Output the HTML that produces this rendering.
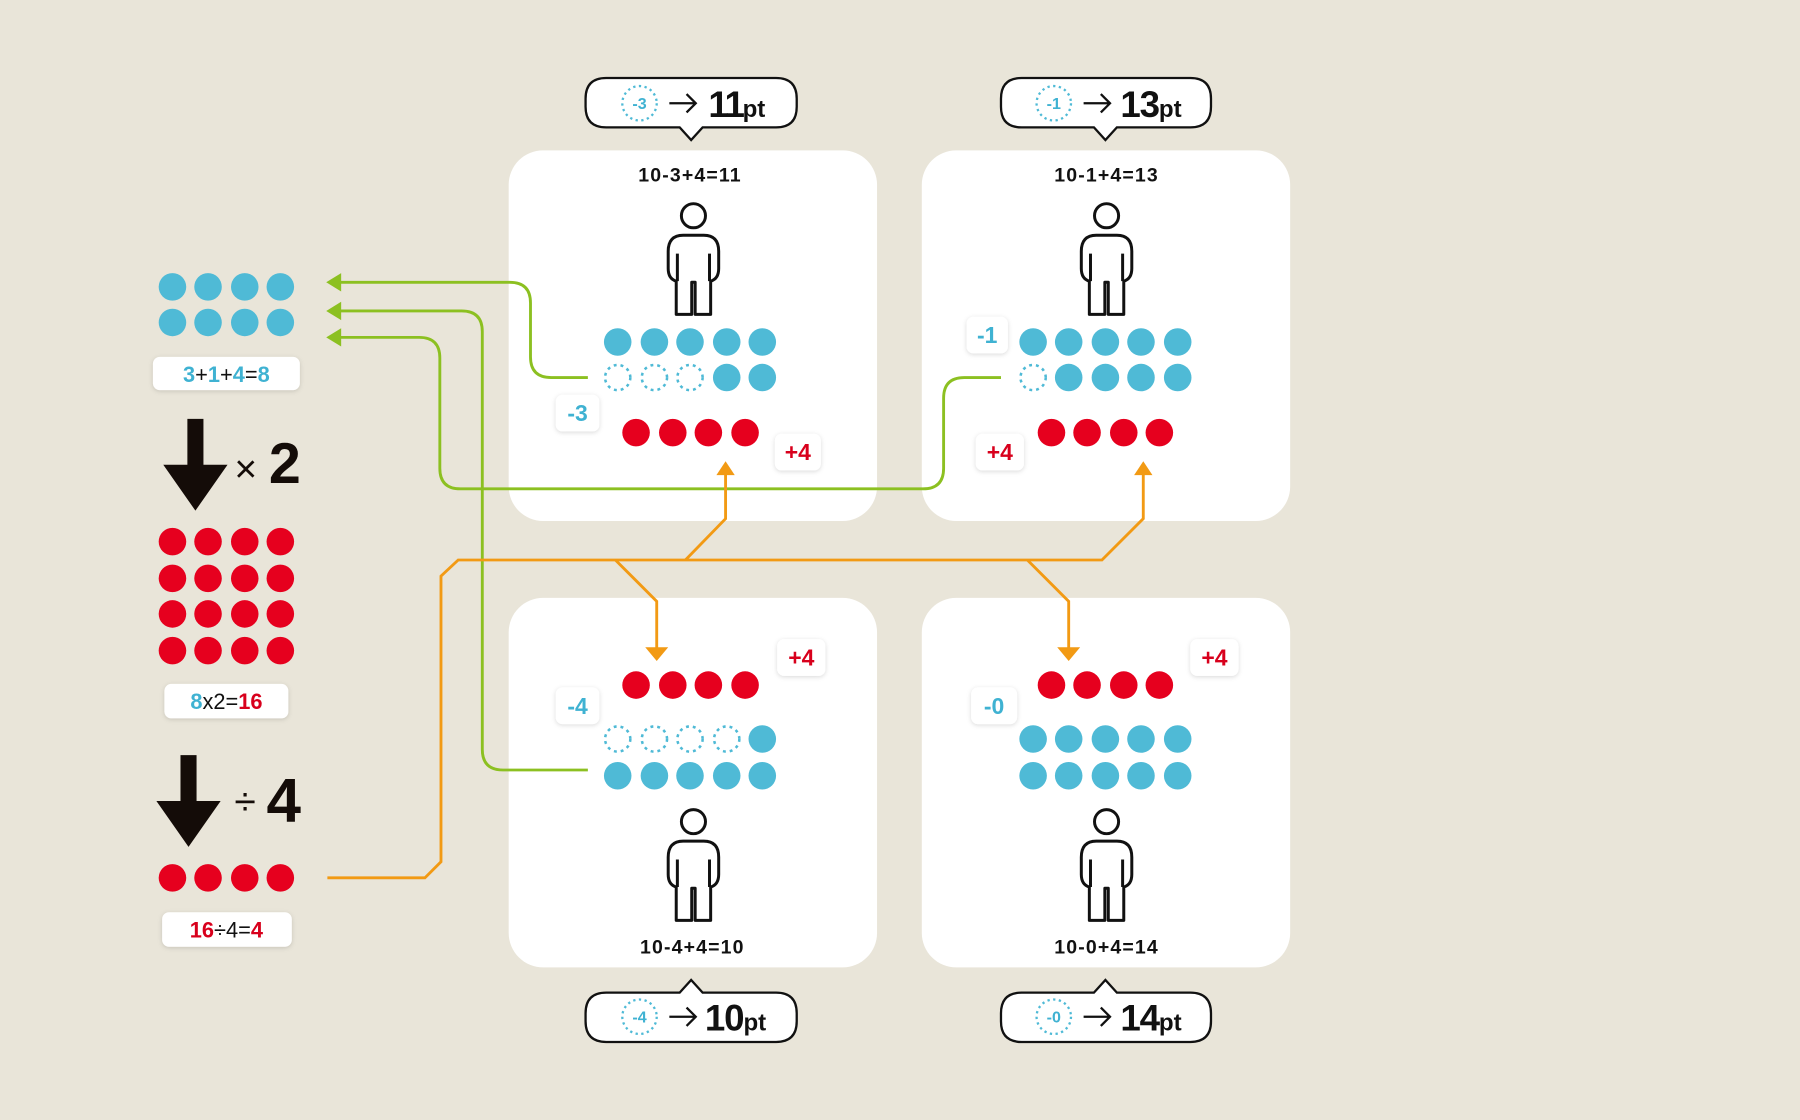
<!DOCTYPE html>
<html><head><meta charset="utf-8"><style>
html,body{margin:0;padding:0;background:#e9e5d9;}
svg{display:block;}
text{font-family:"Liberation Sans",sans-serif;}
</style></head><body>
<svg width="1800" height="1120" viewBox="0 0 1568 976" xmlns="http://www.w3.org/2000/svg">
<defs>
<filter id="sh" x="-30%" y="-30%" width="160%" height="160%"><feDropShadow dx="0" dy="1" stdDeviation="2" flood-opacity="0.15"/></filter>
<g id="person" fill="none" stroke="#111" stroke-width="2.6" stroke-linejoin="round">
<circle cx="0" cy="0" r="10.5"/>
<path d="M0,17 H9 Q22,17 22,31 V46 Q22,55 15,57 V86 H1.5 V58 H-1.5 V86 H-15 V57 Q-22,55 -22,46 V31 Q-22,17 -9,17 Z"/>
<path d="M-14,33 V57 M14,33 V57"/>
</g>
</defs>
<rect width="1568" height="976" fill="#e9e5d9"/>

<rect x="443" y="131" width="321" height="323" rx="30" fill="#fff"/>
<rect x="803" y="131" width="321" height="323" rx="30" fill="#fff"/>
<rect x="443" y="521" width="321" height="322" rx="30" fill="#fff"/>
<rect x="803" y="521" width="321" height="322" rx="30" fill="#fff"/>

<g font-size="17" font-weight="bold" fill="#111" text-anchor="middle" letter-spacing="1">
<text x="601" y="158">10-3+4=11</text>
<text x="964" y="158">10-1+4=13</text>
<text x="603" y="831">10-4+4=10</text>
<text x="964" y="831">10-0+4=14</text>
</g>

<use href="#person" x="604" y="188"/>
<use href="#person" x="964" y="188"/>
<use href="#person" x="604" y="716"/>
<use href="#person" x="964" y="716"/>

<g fill="#4fbad6">
<circle cx="538" cy="298" r="12"/><circle cx="570" cy="298" r="12"/><circle cx="601" cy="298" r="12"/><circle cx="633" cy="298" r="12"/><circle cx="664" cy="298" r="12"/>
<circle cx="633" cy="329" r="12"/><circle cx="664" cy="329" r="12"/>
<circle cx="900" cy="298" r="12"/><circle cx="931" cy="298" r="12"/><circle cx="963" cy="298" r="12"/><circle cx="994" cy="298" r="12"/><circle cx="1026" cy="298" r="12"/>
<circle cx="931" cy="329" r="12"/><circle cx="963" cy="329" r="12"/><circle cx="994" cy="329" r="12"/><circle cx="1026" cy="329" r="12"/>
<circle cx="664" cy="644" r="12"/>
<circle cx="538" cy="676" r="12"/><circle cx="570" cy="676" r="12"/><circle cx="601" cy="676" r="12"/><circle cx="633" cy="676" r="12"/><circle cx="664" cy="676" r="12"/>
<circle cx="900" cy="644" r="12"/><circle cx="931" cy="644" r="12"/><circle cx="963" cy="644" r="12"/><circle cx="994" cy="644" r="12"/><circle cx="1026" cy="644" r="12"/>
<circle cx="900" cy="676" r="12"/><circle cx="931" cy="676" r="12"/><circle cx="963" cy="676" r="12"/><circle cx="994" cy="676" r="12"/><circle cx="1026" cy="676" r="12"/>
<circle cx="150" cy="250" r="12"/><circle cx="181" cy="250" r="12"/><circle cx="213" cy="250" r="12"/><circle cx="244" cy="250" r="12"/>
<circle cx="150" cy="281" r="12"/><circle cx="181" cy="281" r="12"/><circle cx="213" cy="281" r="12"/><circle cx="244" cy="281" r="12"/>
</g>
<g fill="none" stroke="#4fbad6" stroke-width="2.2" stroke-dasharray="2.5 3.5">
<circle cx="538" cy="329" r="11"/><circle cx="570" cy="329" r="11"/><circle cx="601" cy="329" r="11"/>
<circle cx="900" cy="329" r="11"/>
<circle cx="538" cy="644" r="11"/><circle cx="570" cy="644" r="11"/><circle cx="601" cy="644" r="11"/><circle cx="633" cy="644" r="11"/>
</g>
<g fill="#e6001e">
<circle cx="554" cy="377" r="12"/><circle cx="586" cy="377" r="12"/><circle cx="617" cy="377" r="12"/><circle cx="649" cy="377" r="12"/>
<circle cx="916" cy="377" r="12"/><circle cx="947" cy="377" r="12"/><circle cx="979" cy="377" r="12"/><circle cx="1010" cy="377" r="12"/>
<circle cx="554" cy="597" r="12"/><circle cx="586" cy="597" r="12"/><circle cx="617" cy="597" r="12"/><circle cx="649" cy="597" r="12"/>
<circle cx="916" cy="597" r="12"/><circle cx="947" cy="597" r="12"/><circle cx="979" cy="597" r="12"/><circle cx="1010" cy="597" r="12"/>
<circle cx="150" cy="472" r="12"/><circle cx="181" cy="472" r="12"/><circle cx="213" cy="472" r="12"/><circle cx="244" cy="472" r="12"/>
<circle cx="150" cy="504" r="12"/><circle cx="181" cy="504" r="12"/><circle cx="213" cy="504" r="12"/><circle cx="244" cy="504" r="12"/>
<circle cx="150" cy="535" r="12"/><circle cx="181" cy="535" r="12"/><circle cx="213" cy="535" r="12"/><circle cx="244" cy="535" r="12"/>
<circle cx="150" cy="567" r="12"/><circle cx="181" cy="567" r="12"/><circle cx="213" cy="567" r="12"/><circle cx="244" cy="567" r="12"/>
<circle cx="150" cy="765" r="12"/><circle cx="181" cy="765" r="12"/><circle cx="213" cy="765" r="12"/><circle cx="244" cy="765" r="12"/>
</g>

<g filter="url(#sh)" fill="#fff">
<rect x="484" y="344" width="38" height="32" rx="6"/>
<rect x="675" y="378" width="40" height="32" rx="6"/>
<rect x="842" y="276" width="36" height="32" rx="6"/>
<rect x="850" y="378" width="42" height="32" rx="6"/>
<rect x="677" y="557" width="42" height="32" rx="6"/>
<rect x="484" y="599" width="38" height="32" rx="6"/>
<rect x="1037" y="557" width="42" height="32" rx="6"/>
<rect x="846" y="599" width="40" height="32" rx="6"/>
<rect x="133" y="311" width="128" height="29" rx="6"/>
<rect x="143" y="596" width="108" height="30" rx="6"/>
<rect x="141" y="795" width="113" height="30" rx="6"/>
</g>
<g font-size="20" font-weight="bold" text-anchor="middle">
<text x="503" y="367" fill="#3fb2d2">-3</text>
<text x="695" y="401" fill="#d8001c">+4</text>
<text x="860" y="299" fill="#3fb2d2">-1</text>
<text x="871" y="401" fill="#d8001c">+4</text>
<text x="698" y="580" fill="#d8001c">+4</text>
<text x="503" y="622" fill="#3fb2d2">-4</text>
<text x="1058" y="580" fill="#d8001c">+4</text>
<text x="866" y="622" fill="#3fb2d2">-0</text>
</g>
<g font-size="19" text-anchor="middle" fill="#111">
<text x="197" y="333"><tspan fill="#3fb2d2" font-weight="bold">3</tspan>+<tspan fill="#3fb2d2" font-weight="bold">1</tspan>+<tspan fill="#3fb2d2" font-weight="bold">4</tspan>=<tspan fill="#3fb2d2" font-weight="bold">8</tspan></text>
<text x="197" y="618"><tspan fill="#3fb2d2" font-weight="bold">8</tspan>x2=<tspan fill="#d8001c" font-weight="bold">16</tspan></text>
<text x="197" y="817"><tspan fill="#d8001c" font-weight="bold">16</tspan>÷4=<tspan fill="#d8001c" font-weight="bold">4</tspan></text>
</g>

<path d="M163,365 H177 V405 H198 L170,445 L142,405 H163 Z" fill="#140c08"/>
<text x="204" y="420" font-size="34" fill="#140c08">×</text>
<text x="234" y="421" font-size="50" font-weight="bold" fill="#140c08" letter-spacing="-2">2</text>
<path d="M157,658 H171 V698 H192 L164,738 L136,698 H157 Z" fill="#140c08"/>
<text x="204" y="710" font-size="34" fill="#140c08">÷</text>
<text x="232" y="716" font-size="54" font-weight="bold" fill="#140c08">4</text>

<g fill="none" stroke="#8cc021" stroke-width="2.5">
<path d="M512,329 H480 Q462,329 462,311 V264 Q462,246 444,246 H292"/>
<path d="M512,671 H438 Q420,671 420,653 V289 Q420,271 402,271 H292"/>
<path d="M872,329 H840 Q822,329 822,347 V408 Q822,426 804,426 H401 Q383,426 383,408 V312 Q383,294 365,294 H292"/>
</g>
<g fill="#8cc021">
<path d="M284,246 L297,238 V254 Z"/>
<path d="M284,271 L297,263 V279 Z"/>
<path d="M284,294 L297,286 V302 Z"/>
</g>

<g fill="none" stroke="#f29a14" stroke-width="2.5">
<path d="M285,765 H370 L384,751 V502 L399,488 H960 L996,452 V410"/>
<path d="M597,488 L632,452 V410"/>
<path d="M536,488 L572,524 V566"/>
<path d="M895,488 L931,524 V566"/>
</g>
<g fill="#f29a14">
<path d="M632,402 L624,414 H640 Z"/>
<path d="M996,402 L988,414 H1004 Z"/>
<path d="M572,576 L562,564 H582 Z"/>
<path d="M931,576 L921,564 H941 Z"/>
</g>

<g fill="#fff" stroke="#111" stroke-width="2">
<path d="M528,68 H676 Q694,68 694,86 V93 Q694,111 676,111 H612 L602,122 L592,111 H528 Q510,111 510,93 V86 Q510,68 528,68 Z"/>
<path d="M890,68 H1037 Q1055,68 1055,86 V93 Q1055,111 1037,111 H973 L963,122 L953,111 H890 Q872,111 872,93 V86 Q872,68 890,68 Z"/>
<path d="M528,865 H592 L602,854 L612,865 H676 Q694,865 694,883 V890 Q694,908 676,908 H528 Q510,908 510,890 V883 Q510,865 528,865 Z"/>
<path d="M890,865 H953 L963,854 L973,865 H1037 Q1055,865 1055,883 V890 Q1055,908 1037,908 H890 Q872,908 872,890 V883 Q872,865 890,865 Z"/>
</g>
<g fill="none" stroke="#4fbad6" stroke-width="2" stroke-dasharray="2 3">
<circle cx="557" cy="90" r="15"/><circle cx="918" cy="90" r="15"/>
<circle cx="557" cy="886" r="15"/><circle cx="918" cy="886" r="15"/>
</g>
<g font-size="14" font-weight="bold" fill="#3fb2d2" text-anchor="middle">
<text x="557" y="95">-3</text><text x="918" y="95">-1</text>
<text x="557" y="891">-4</text><text x="918" y="891">-0</text>
</g>
<g fill="none" stroke="#111" stroke-width="2">
<path d="M583,90 H606 M598,82 L606,90 L598,98"/>
<path d="M944,90 H967 M959,82 L967,90 L959,98"/>
<path d="M583,886 H606 M598,878 L606,886 L598,894"/>
<path d="M944,886 H967 M959,878 L967,886 L959,894"/>
</g>
<g fill="#111" font-weight="bold">
<text x="617" y="102" font-size="32" letter-spacing="-2">11<tspan font-size="21" letter-spacing="0">pt</tspan></text>
<text x="976" y="102" font-size="32" letter-spacing="-1">13<tspan font-size="21" letter-spacing="0">pt</tspan></text>
<text x="614" y="898" font-size="32" letter-spacing="-1">10<tspan font-size="21" letter-spacing="0">pt</tspan></text>
<text x="976" y="898" font-size="32" letter-spacing="-1">14<tspan font-size="21" letter-spacing="0">pt</tspan></text>
</g>
</svg>
</body></html>
